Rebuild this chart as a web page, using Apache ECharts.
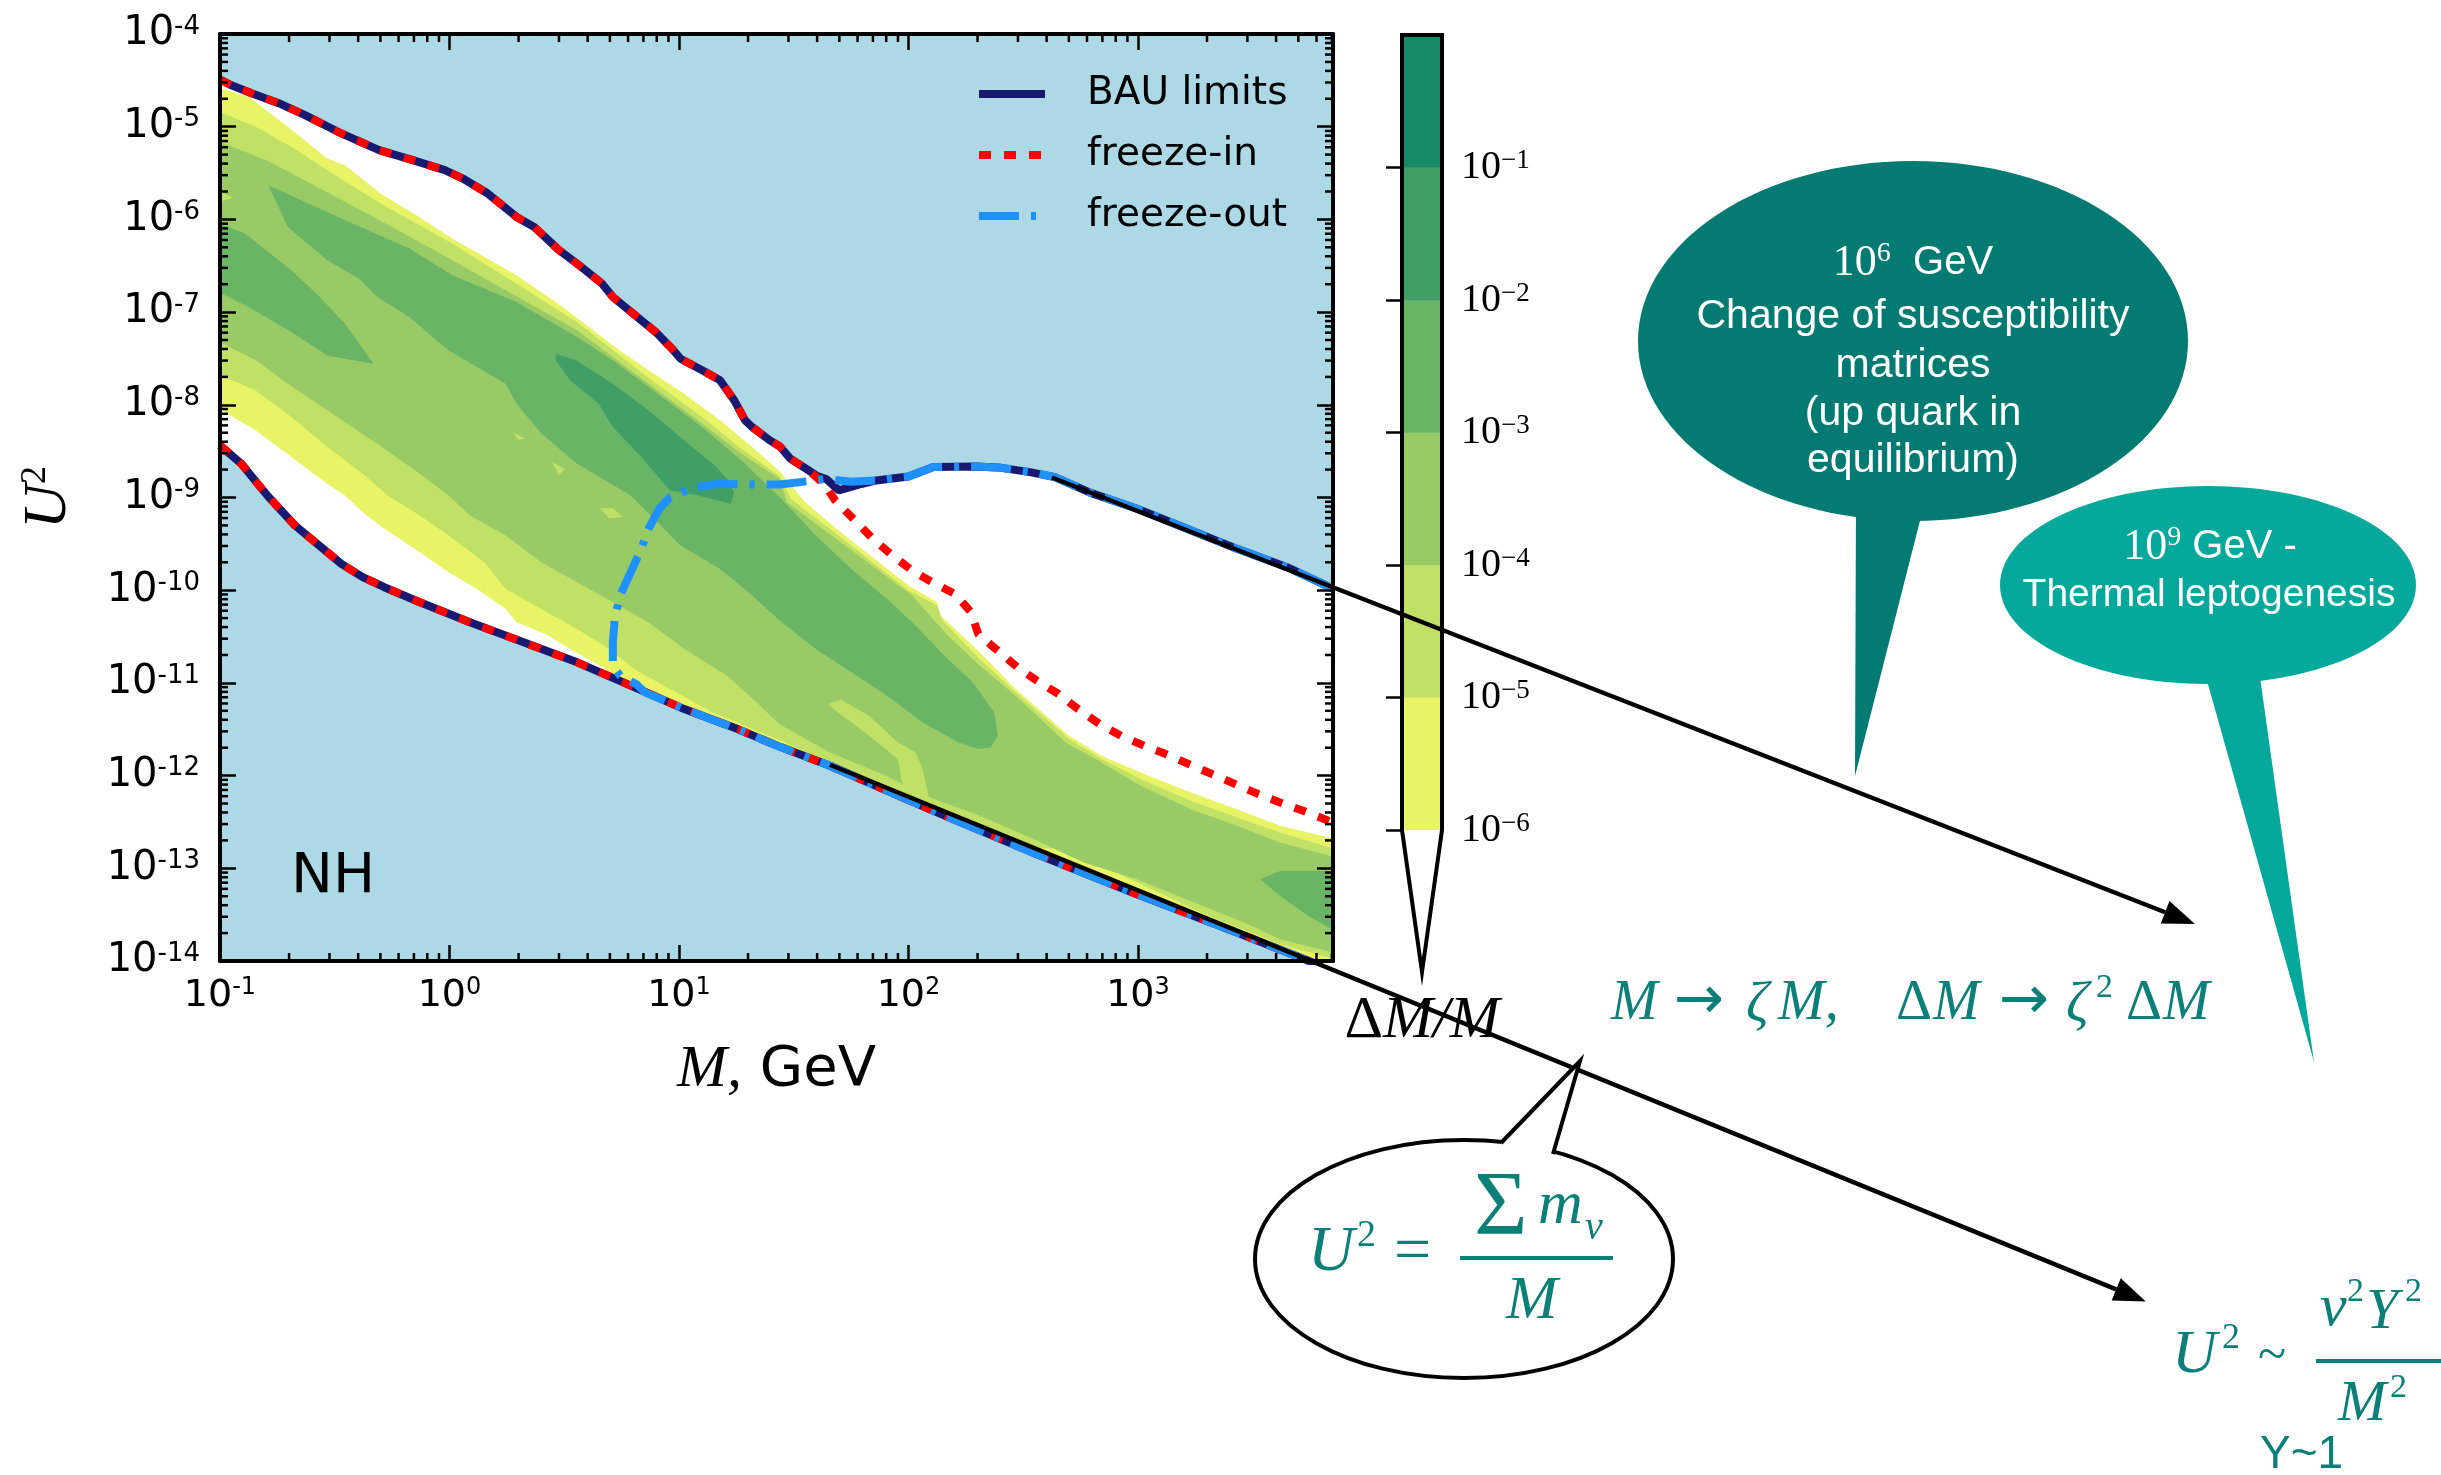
<!DOCTYPE html>
<html>
<head>
<meta charset="utf-8">
<title>BAU limits, NH</title>
<script src="https://cdn.jsdelivr.net/npm/echarts@6.0.0/dist/echarts.min.js"></script>
<style>
html,body{margin:0;padding:0;background:#ffffff;}
#chart{width:2441px;height:1475px;}
</style>
</head>
<body>
<div id="chart"></div>
<script>
// ---------- values: points are [log10(M / GeV), log10(U^2)] ----------
const xRangeExp = [-1, 3.85];
const yRangeExp = [-14, -4];
const xTickExps = [-1, 0, 1, 2, 3];
const yTickExps = [-14, -13, -12, -11, -10, -9, -8, -7, -6, -5, -4];
const minorMantissas = [2, 3, 4, 5, 6, 7, 8, 9];
const colorbarLevelExps = [-6, -5, -4, -3, -2, -1, 0];
const colorbarTickExps = [-6, -5, -4, -3, -2, -1];
const bandColors = ['#e8f466', '#c1e066', '#98cb66', '#6ab466', '#3f9f66', '#168a66'];

const bauUpperSteepLog = [[-1.0,-4.49],[-0.953,-4.551],[-0.86,-4.641],[-0.735,-4.756],[-0.627,-4.878],[-0.486,-5.055],[-0.307,-5.253],[-0.16,-5.361],[-0.02,-5.469],[0.058,-5.559],[0.167,-5.721],[0.292,-5.973],[0.369,-6.081],[0.478,-6.333],[0.556,-6.477],[0.665,-6.693],[0.712,-6.837],[0.836,-7.089],[0.899,-7.215],[0.976,-7.413],[1.007,-7.503],[1.101,-7.628],[1.179,-7.736],[1.241,-7.952],[1.288,-8.168],[1.319,-8.24],[1.396,-8.384],[1.44,-8.45],[1.485,-8.58],[1.56,-8.70]];
const bauUpperPlateauLog = [[1.603,-8.77],[1.642,-8.80],[1.697,-8.924],[1.798,-8.852],[1.86,-8.816],[2.0,-8.773],[2.109,-8.672],[2.296,-8.665],[2.405,-8.68],[2.529,-8.726],[2.638,-8.78],[2.794,-8.95],[2.996,-9.122],[3.214,-9.338],[3.432,-9.554],[3.65,-9.752],[3.852,-9.986]];
const bauLowerLog = [[-1.0,-8.438],[-0.907,-8.636],[-0.79,-8.99],[-0.673,-9.302],[-0.533,-9.59],[-0.471,-9.716],[-0.378,-9.86],[-0.284,-9.968],[-0.129,-10.13],[0.089,-10.346],[0.323,-10.562],[0.556,-10.778],[0.79,-11.03],[1.023,-11.282],[1.256,-11.498],[1.44,-11.69],[1.658,-11.894],[2.109,-12.38],[2.56,-12.848],[2.996,-13.28],[3.432,-13.694],[3.745,-14.0],[3.80,-14.056]];
const freezeInTailLog = [[1.603,-8.79],[1.642,-8.888],[1.68,-9.03],[1.767,-9.248],[1.845,-9.446],[1.922,-9.608],[2.016,-9.788],[2.109,-9.921],[2.203,-10.04],[2.273,-10.238],[2.304,-10.472],[2.389,-10.652],[2.475,-10.832],[2.56,-10.976],[2.654,-11.12],[2.739,-11.282],[2.833,-11.444],[2.926,-11.57],[3.027,-11.678],[3.121,-11.768],[3.222,-11.876],[3.323,-11.984],[3.424,-12.092],[3.525,-12.2],[3.619,-12.29],[3.72,-12.38],[3.85,-12.506]];
const freezeOutLog = [[3.852,-9.986],[3.65,-9.752],[3.432,-9.554],[3.214,-9.338],[2.996,-9.122],[2.794,-8.95],[2.638,-8.78],[2.529,-8.726],[2.405,-8.68],[2.296,-8.665],[2.109,-8.672],[2.0,-8.773],[1.86,-8.816],[1.75,-8.83],[1.642,-8.80],[1.44,-8.86],[1.334,-8.86],[1.179,-8.852],[1.07,-8.888],[0.961,-8.996],[0.914,-9.122],[0.867,-9.338],[0.836,-9.554],[0.79,-9.806],[0.743,-10.058],[0.72,-10.31],[0.712,-10.562],[0.712,-10.814],[0.743,-10.922],[0.813,-11.012],[0.852,-11.102],[1.023,-11.282],[1.256,-11.498],[1.44,-11.69],[1.658,-11.894],[2.109,-12.38],[2.56,-12.848],[2.996,-13.28],[3.432,-13.694],[3.745,-14.0],[3.80,-14.056]];

// filled contour regions of Delta M / M (each "at least this level" region)
const c0UpperLog = [[-1.02,-4.57],[-0.876,-4.677],[-0.704,-5.001],[-0.533,-5.343],[-0.455,-5.415],[-0.3,-5.721],[-0.144,-5.955],[0.012,-6.207],[0.292,-6.603],[0.494,-6.945],[0.712,-7.359],[0.867,-7.628],[1.023,-7.881],[1.179,-8.168],[1.303,-8.42],[1.44,-8.72],[1.55,-9.05],[1.705,-9.374],[2.0,-9.95],[2.125,-10.13],[2.14,-10.274],[2.311,-10.67],[2.467,-11.066],[2.7,-11.57],[2.841,-11.786],[3.012,-11.966],[3.23,-12.182],[3.432,-12.362],[3.619,-12.542],[3.87,-12.69]];
const c0LowerLog = [[3.87,-14.1],[3.80,-14.056],[3.745,-14.0],[3.432,-13.694],[2.996,-13.28],[2.56,-12.848],[2.109,-12.38],[1.658,-11.894],[1.44,-11.69],[1.256,-11.498],[1.023,-11.282],[0.79,-11.03],[0.712,-10.946],[0.681,-10.85],[0.525,-10.634],[0.432,-10.49],[0.292,-10.346],[0.245,-10.202],[0.12,-9.986],[-0.004,-9.806],[-0.129,-9.59],[-0.284,-9.338],[-0.378,-9.158],[-0.455,-8.978],[-0.533,-8.852],[-0.689,-8.564],[-0.844,-8.276],[-1.02,-8.02]];
const c1UpperLog = [[-1.02,-4.82],[-0.844,-5.0],[-0.689,-5.217],[-0.533,-5.469],[-0.3,-5.829],[0.012,-6.261],[0.292,-6.693],[0.556,-7.107],[0.867,-7.708],[1.101,-8.132],[1.272,-8.474],[1.44,-8.77],[1.487,-9.014],[1.705,-9.428],[2.0,-10.004],[2.125,-10.166],[2.148,-10.328],[2.311,-10.742],[2.467,-11.102],[2.7,-11.606],[2.841,-11.822],[3.012,-12.038],[3.23,-12.272],[3.432,-12.452],[3.619,-12.614],[3.87,-12.8]];
const c1LowerLog = [[3.87,-13.99],[3.619,-13.82],[3.307,-13.514],[2.996,-13.154],[2.685,-12.794],[2.5,-12.77],[2.109,-12.35],[1.658,-11.86],[1.44,-11.62],[1.148,-11.318],[0.961,-11.066],[0.805,-10.85],[0.696,-10.634],[0.556,-10.418],[0.4,-10.202],[0.245,-9.986],[0.152,-9.698],[-0.004,-9.41],[-0.129,-9.194],[-0.269,-8.978],[-0.378,-8.744],[-0.533,-8.456],[-0.689,-8.132],[-0.844,-7.845],[-1.02,-7.66]];
const c2UpperLog = [[-1.02,-5.145],[-0.798,-5.361],[-0.549,-5.685],[-0.331,-5.973],[-0.066,-6.333],[0.245,-6.765],[0.556,-7.197],[0.867,-7.772],[1.101,-8.204],[1.272,-8.528],[1.44,-8.8],[1.47,-9.05],[1.705,-9.482],[2.016,-10.058],[2.171,-10.49],[2.311,-10.814],[2.467,-11.138],[2.685,-11.642],[2.841,-11.858],[3.012,-12.11],[3.23,-12.362],[3.432,-12.542],[3.619,-12.722],[3.87,-12.89]];
const c2LowerLog = [[3.87,-13.92],[3.619,-13.766],[3.463,-13.586],[3.23,-13.352],[2.996,-13.118],[2.763,-12.938],[2.56,-12.7],[2.311,-12.434],[2.094,-12.236],[1.9,-12.0],[1.658,-11.75],[1.44,-11.45],[1.334,-11.2],[1.21,-10.922],[1.023,-10.634],[0.867,-10.346],[0.712,-10.13],[0.556,-9.914],[0.4,-9.698],[0.245,-9.41],[0.089,-9.194],[-0.004,-8.978],[-0.129,-8.744],[-0.315,-8.42],[-0.533,-8.06],[-0.704,-7.772],[-0.844,-7.52],[-1.02,-7.3]];
const c1TongueLog = [[1.65,-11.228],[1.705,-11.181],[1.829,-11.354],[1.954,-11.642],[2.031,-11.75],[2.062,-11.93],[2.094,-12.3],[2.0,-12.3],[1.969,-12.038],[1.954,-11.822],[1.829,-11.57],[1.673,-11.282]];
const c1NotchLog = [[-1.02,-5.68],[-0.94,-5.77],[-1.02,-5.82]];
const c1SpeckALog = [[0.276,-8.294],[0.33,-8.366],[0.3,-8.377]];
const c1SpeckBLog = [[0.447,-8.618],[0.502,-8.69],[0.478,-8.762]];
const c1SpeckCLog = [[0.657,-9.115],[0.712,-9.115],[0.755,-9.212],[0.696,-9.223]];
const c3MainLog = [[-0.79,-5.631],[-0.471,-5.991],[-0.175,-6.315],[0.012,-6.603],[0.292,-6.891],[0.556,-7.268],[0.712,-7.52],[0.945,-7.952],[1.101,-8.24],[1.272,-8.6],[1.44,-9.0],[1.596,-9.41],[1.751,-9.77],[1.907,-10.094],[2.031,-10.382],[2.156,-10.706],[2.28,-10.994],[2.374,-11.318],[2.389,-11.57],[2.358,-11.696],[2.304,-11.714],[2.218,-11.642],[2.062,-11.426],[1.907,-11.138],[1.751,-10.886],[1.596,-10.634],[1.44,-10.33],[1.303,-10.022],[1.179,-9.77],[1.007,-9.518],[0.79,-8.978],[0.556,-8.636],[0.4,-8.31],[0.292,-7.988],[0.245,-7.772],[-0.004,-7.413],[-0.175,-7.053],[-0.315,-6.837],[-0.393,-6.639],[-0.533,-6.441],[-0.704,-6.081]];
const c3LobeLog = [[-1.02,-6.027],[-0.891,-6.153],[-0.689,-6.549],[-0.58,-6.8],[-0.455,-7.125],[-0.331,-7.557],[-0.533,-7.467],[-0.689,-7.215],[-0.876,-6.945],[-1.02,-6.765]];
const c3RightLog = [[3.533,-13.118],[3.619,-13.028],[3.87,-13.028],[3.87,-13.694],[3.743,-13.514],[3.619,-13.298]];
const c4Log = [[0.463,-7.45],[0.55,-7.52],[0.712,-7.773],[0.867,-8.06],[1.023,-8.384],[1.148,-8.636],[1.21,-8.8],[1.24,-8.95],[1.225,-9.068],[1.085,-8.978],[0.961,-8.924],[0.836,-8.564],[0.712,-8.24],[0.65,-7.988],[0.525,-7.736],[0.463,-7.52]];

// annotation arrows: [fromX, fromY, toX, toY] in the same log10 units
const arrowLinesLog = [[2.625,-8.784,7.606,-13.6],[1.658,-11.883,7.392,-17.672]];

// ---------- assembled structures ----------
const whiteRegionLog = [[-1.02,-4.47]].concat(bauUpperSteepLog, bauUpperPlateauLog, [[3.87,-10.0],[3.87,-14.1]], bauLowerLog.slice().reverse(), [[-1.02,-8.42]]);
const regionPolygons = [
  {band: -1, pts: whiteRegionLog},
  {band: 0, pts: c0UpperLog.concat(c0LowerLog)},
  {band: 1, pts: c1UpperLog.concat(c1LowerLog)},
  {band: 2, pts: c2UpperLog.concat(c2LowerLog)},
  {band: 1, pts: c1TongueLog},
  {band: 1, pts: c1NotchLog},
  {band: 1, pts: c1SpeckALog},
  {band: 1, pts: c1SpeckBLog},
  {band: 1, pts: c1SpeckCLog},
  {band: 3, pts: c3MainLog},
  {band: 3, pts: c3LobeLog},
  {band: 3, pts: c3RightLog},
  {band: 4, pts: c4Log}
];

const minorTickData = [];
xTickExps.forEach(n => minorMantissas.forEach(k => {
  const v = n + Math.log10(k);
  if (v < xRangeExp[1]) minorTickData.push([v, yRangeExp[0], 0]);
}));
yTickExps.slice(0, -1).forEach(n => minorMantissas.forEach(k => {
  minorTickData.push([0, n + Math.log10(k), 1]);
}));

const colorbarData = colorbarLevelExps.slice(0, -1).map((lo, i) => [0, lo, colorbarLevelExps[i + 1], i]);
colorbarData.push([0, colorbarLevelExps[0], colorbarLevelExps[colorbarLevelExps.length - 1], -1]);

// ---------- styles ----------
const teal = '#0b7f78';
const bubbleDark = '#037b73';
const bubbleLight = '#05a99c';
const tickStyle = {color: '#000', width: 2.5};
const xRich = {
  b: {fontFamily: 'DejaVu Sans', fontSize: 38, lineHeight: 40, color: '#000'},
  s: {fontFamily: 'DejaVu Sans', fontSize: 24, lineHeight: 16, verticalAlign: 'top', color: '#000'}
};
const yRich = {
  b: {fontFamily: 'DejaVu Sans', fontSize: 40, lineHeight: 40, color: '#000'},
  s: {fontFamily: 'DejaVu Sans', fontSize: 26, lineHeight: 14, verticalAlign: 'top', color: '#000'}
};
const cbRich = {
  b: {fontFamily: 'Liberation Serif', fontSize: 40, lineHeight: 40, color: '#000'},
  s: {fontFamily: 'Liberation Serif', fontSize: 27, lineHeight: 16, verticalAlign: 'top', color: '#000'}
};
function expLabel(list) {
  return function (v) {
    const e = Math.round(v);
    if (Math.abs(v - e) > 1e-6 || list.indexOf(e) < 0) return '';
    return '{b|10}{s|' + e + '}';
  };
}
function cbLabel(v) {
  const e = Math.round(v);
  if (Math.abs(v - e) > 1e-6 || colorbarTickExps.indexOf(e) < 0) return '';
  return '{b|10}{s|\u2212' + (-e) + '}';
}
function mainAxisBase(extra) {
  return Object.assign({
    type: 'value', gridIndex: 0, interval: 1, z: 10,
    axisLine: {show: true, onZero: false, lineStyle: {color: '#000', width: 4}},
    axisTick: {show: true, inside: true, length: 16, lineStyle: tickStyle},
    splitLine: {show: false}
  }, extra);
}

function txt(text, x, y, size, opts) {
  opts = opts || {};
  return {
    type: 'text', x: x, y: y, z: 60, silent: true,
    style: Object.assign({
      text: text, fill: opts.fill || teal, fontSize: size,
      fontFamily: opts.family || 'Liberation Serif',
      fontStyle: opts.italic ? 'italic' : 'normal',
      fontWeight: opts.weight || 'normal',
      align: opts.align || 'left', textAlign: opts.align || 'left',
      verticalAlign: 'middle', textVerticalAlign: 'middle'
    }, opts.rich ? {rich: opts.rich} : {})
  };
}

const whiteSans = {fill: '#fff', family: 'Liberation Sans', align: 'center'};
const bubbleHeadRich = {
  t: {fontFamily: 'Liberation Serif', fontSize: 44, lineHeight: 46, fill: '#fff'},
  ts: {fontFamily: 'Liberation Serif', fontSize: 28, lineHeight: 20, verticalAlign: 'top', fill: '#fff'},
  g: {fontFamily: 'Liberation Sans', fontSize: 40, lineHeight: 46, fill: '#fff'}
};

const graphicElements = [
  // bubble 1
  {type: 'polygon', z: 50, silent: true, shape: {points: [[1856, 500], [1924, 505], [1855, 776]]}, style: {fill: bubbleDark}},
  {type: 'ellipse', z: 50, silent: true, shape: {cx: 1913, cy: 341, rx: 275, ry: 180}, style: {fill: bubbleDark}},
  txt('{t|10}{ts|6}{g|  GeV}', 1913, 263, 40, Object.assign({rich: bubbleHeadRich}, whiteSans)),
  txt('Change of susceptibility', 1913, 317, 41, whiteSans),
  txt('matrices', 1913, 366, 41, whiteSans),
  txt('(up quark in', 1913, 414, 41, whiteSans),
  txt('equilibrium)', 1913, 461, 41, whiteSans),
  // bubble 2
  {type: 'polygon', z: 50, silent: true, shape: {points: [[2204, 670], [2259, 670], [2314, 1062]]}, style: {fill: bubbleLight}},
  {type: 'ellipse', z: 50, silent: true, shape: {cx: 2208, cy: 585, rx: 208, ry: 99}, style: {fill: bubbleLight}},
  txt('{t|10}{ts|9}{g| GeV -}', 2210, 547, 40, Object.assign({rich: bubbleHeadRich}, whiteSans)),
  txt('Thermal leptogenesis', 2209, 595, 39, whiteSans),
  // bubble 3 (outlined)
  {type: 'ellipse', z: 50, silent: true, shape: {cx: 1464, cy: 1259, rx: 209, ry: 119}, style: {fill: '#fff', stroke: '#000', lineWidth: 4}},
  {type: 'polygon', z: 51, silent: true, shape: {points: [[1501, 1143], [1580, 1061], [1553, 1154], [1546, 1172], [1506, 1163]]}, style: {fill: '#fff'}},
  {type: 'polyline', z: 52, silent: true, shape: {points: [[1501, 1143], [1580, 1061], [1553, 1154]]}, style: {stroke: '#000', lineWidth: 4, fill: null}},
  txt('U', 1308, 1253, 64, {italic: true}),
  txt('2', 1357, 1236, 38),
  txt('=', 1394, 1254, 66),
  txt('\u03A3', 1474, 1210, 92),
  txt('m', 1538, 1207, 62, {italic: true}),
  txt('\u03BD', 1585, 1228, 40, {italic: true}),
  {type: 'rect', z: 60, silent: true, shape: {x: 1460, y: 1256, width: 153, height: 4}, style: {fill: teal}},
  txt('M', 1506, 1302, 62, {italic: true}),
  // scaling relation
  txt('M', 1611, 1004, 56, {italic: true}),
  txt('\u2192', 1674, 1002, 60, {family: 'DejaVu Sans'}),
  txt('\u03B6', 1746, 1006, 56, {italic: true}),
  txt('M,', 1778, 1004, 56, {italic: true}),
  txt('\u0394', 1896, 1004, 56),
  txt('M', 1933, 1004, 56, {italic: true}),
  txt('\u2192', 1999, 1002, 60, {family: 'DejaVu Sans'}),
  txt('\u03B6', 2066, 1006, 56, {italic: true}),
  txt('2', 2096, 988, 34),
  txt('\u0394', 2126, 1004, 56),
  txt('M', 2163, 1004, 56, {italic: true}),
  // bottom-right relation
  txt('U', 2172, 1356, 62, {italic: true}),
  txt('2', 2222, 1339, 36),
  txt('~', 2258, 1357, 52),
  {type: 'rect', z: 60, silent: true, shape: {x: 2316, y: 1359, width: 140, height: 4}, style: {fill: teal}},
  txt('v', 2320, 1309, 60, {italic: true}),
  txt('2', 2347, 1292, 34),
  txt('Y', 2366, 1313, 58, {italic: true}),
  txt('2', 2405, 1292, 34),
  txt('M', 2338, 1405, 58, {italic: true}),
  txt('2', 2390, 1388, 34),
  txt('Y~1', 2260, 1455, 46, {family: 'Liberation Sans'}),
  // panel tag
  txt('NH', 291, 877, 56, {family: 'DejaVu Sans', fill: '#000'})
];

// ---------- chart ----------
const chart = echarts.init(document.getElementById('chart'), null, {renderer: 'canvas'});
const option = {
  animation: false,
  backgroundColor: '#ffffff',
  textStyle: {fontFamily: 'DejaVu Sans'},
  grid: [
    {left: 220, top: 34, width: 1113, height: 927, show: true, backgroundColor: '#add8e6', borderWidth: 0},
    {left: 1402, top: 35, width: 40, height: 795, show: false}
  ],
  legend: {
    orient: 'vertical', left: 970, top: 69, itemWidth: 66, itemHeight: 2, itemGap: 21,
    data: ['BAU limits', 'freeze-in', 'freeze-out'], selectedMode: false,
    textStyle: {fontFamily: 'DejaVu Sans', fontSize: 39, lineHeight: 40, color: '#000', padding: [0, 0, 0, 37]},
    lineStyle: {width: 8}, itemStyle: {opacity: 0}
  },
  xAxis: [
    mainAxisBase({
      position: 'bottom', min: xRangeExp[0], max: xRangeExp[1],
      axisLabel: {show: true, margin: 15, formatter: expLabel(xTickExps), rich: xRich, showMaxLabel: false},
      name: '{i|M,}{n| GeV}', nameLocation: 'middle', nameGap: 79,
      nameTextStyle: {rich: {
        i: {fontFamily: 'Liberation Serif', fontStyle: 'italic', fontSize: 60, lineHeight: 60, color: '#000'},
        n: {fontFamily: 'DejaVu Sans', fontSize: 56, lineHeight: 60, color: '#000'}
      }}
    }),
    mainAxisBase({position: 'top', min: xRangeExp[0], max: xRangeExp[1], axisLabel: {show: false}}),
    {
      type: 'value', gridIndex: 1, min: 0, max: 1, show: true,
      axisLine: {show: false}, axisTick: {show: false}, axisLabel: {show: false}, splitLine: {show: false},
      name: '{d|\u0394}{i|M/M}', nameLocation: 'middle', nameGap: 161,
      nameTextStyle: {rich: {
        d: {fontFamily: 'Liberation Serif', fontSize: 60, lineHeight: 60, color: '#000'},
        i: {fontFamily: 'Liberation Serif', fontStyle: 'italic', fontSize: 60, lineHeight: 60, color: '#000'}
      }}
    }
  ],
  yAxis: [
    mainAxisBase({
      position: 'left', min: yRangeExp[0], max: yRangeExp[1],
      axisLabel: {show: true, margin: 20, formatter: expLabel(yTickExps), rich: yRich},
      name: '{i|U}{s|2}', nameLocation: 'middle', nameRotate: 90, nameGap: 140,
      nameTextStyle: {rich: {
        i: {fontFamily: 'Liberation Serif', fontStyle: 'italic', fontSize: 62, lineHeight: 62, color: '#000'},
        s: {fontFamily: 'Liberation Serif', fontSize: 36, lineHeight: 26, verticalAlign: 'top', color: '#000'}
      }}
    }),
    mainAxisBase({position: 'right', min: yRangeExp[0], max: yRangeExp[1], axisLabel: {show: false}}),
    {
      type: 'value', gridIndex: 1, position: 'right', min: colorbarLevelExps[0], max: colorbarLevelExps[colorbarLevelExps.length - 1], interval: 1, z: 10,
      axisLine: {show: false},
      axisTick: {show: true, inside: true, length: 16, lineStyle: tickStyle},
      axisLabel: {show: true, margin: 19, formatter: cbLabel, rich: cbRich, showMaxLabel: false},
      splitLine: {show: false}
    }
  ],
  series: [
    {
      type: 'custom', name: 'contours', xAxisIndex: 0, yAxisIndex: 0, clip: true, z: 2, silent: true,
      data: regionPolygons.map((r, i) => [r.pts[0][0], r.pts[0][1], i]),
      encode: {x: 0, y: 1},
      renderItem: function (params, api) {
        const r = regionPolygons[params.dataIndex];
        const pts = r.pts.map(p => api.coord(p));
        const color = r.band < 0 ? '#ffffff' : bandColors[r.band];
        return {type: 'polygon', shape: {points: pts}, style: {fill: color, stroke: null}};
      }
    },
    {name: 'BAU limits', type: 'line', xAxisIndex: 0, yAxisIndex: 0, data: bauUpperSteepLog.concat(bauUpperPlateauLog), symbol: 'none', silent: true, z: 3,
      itemStyle: {color: '#191970'}, lineStyle: {color: '#191970', width: 8, type: 'solid'}},
    {name: 'BAU limits', type: 'line', xAxisIndex: 0, yAxisIndex: 0, data: bauLowerLog, symbol: 'none', silent: true, z: 3,
      itemStyle: {color: '#191970'}, lineStyle: {color: '#191970', width: 8, type: 'solid'}},
    {name: 'freeze-in', type: 'line', xAxisIndex: 0, yAxisIndex: 0, data: bauUpperSteepLog.concat(freezeInTailLog), symbol: 'none', silent: true, z: 4,
      itemStyle: {color: '#ff0000'}, lineStyle: {color: '#ff0000', width: 8, type: [12, 13], cap: 'butt'}},
    {name: 'freeze-in', type: 'line', xAxisIndex: 0, yAxisIndex: 0, data: bauLowerLog, symbol: 'none', silent: true, z: 4,
      itemStyle: {color: '#ff0000'}, lineStyle: {color: '#ff0000', width: 8, type: [12, 13], cap: 'butt'}},
    {name: 'freeze-out', type: 'line', xAxisIndex: 0, yAxisIndex: 0, data: freezeOutLog, symbol: 'none', silent: true, z: 5,
      itemStyle: {color: '#1e90ff'}, lineStyle: {color: '#1e90ff', width: 8, type: [40, 12, 5, 12], cap: 'butt'}},
    {
      type: 'custom', name: 'minor ticks', xAxisIndex: 0, yAxisIndex: 0, clip: false, z: 11, silent: true,
      data: minorTickData, encode: {x: 0, y: 1},
      renderItem: function (params, api) {
        const st = {stroke: '#000', lineWidth: 2.5};
        if (api.value(2) === 0) {
          const x = api.value(0);
          const b = api.coord([x, yRangeExp[0]]), t = api.coord([x, yRangeExp[1]]);
          return {type: 'group', children: [
            {type: 'line', shape: {x1: b[0], y1: b[1], x2: b[0], y2: b[1] - 8}, style: st},
            {type: 'line', shape: {x1: t[0], y1: t[1], x2: t[0], y2: t[1] + 8}, style: st}
          ]};
        }
        const y = api.value(1);
        const l = api.coord([xRangeExp[0], y]), r = api.coord([xRangeExp[1], y]);
        return {type: 'group', children: [
          {type: 'line', shape: {x1: l[0], y1: l[1], x2: l[0] + 8, y2: l[1]}, style: st},
          {type: 'line', shape: {x1: r[0], y1: r[1], x2: r[0] - 8, y2: r[1]}, style: st}
        ]};
      }
    },
    {
      type: 'custom', name: 'arrows', xAxisIndex: 0, yAxisIndex: 0, clip: false, z: 20, silent: true,
      data: arrowLinesLog, encode: {x: 0, y: 1},
      renderItem: function (params, api) {
        const p1 = api.coord([api.value(0), api.value(1)]);
        const p2 = api.coord([api.value(2), api.value(3)]);
        const dx = p2[0] - p1[0], dy = p2[1] - p1[1], L = Math.hypot(dx, dy);
        const ux = dx / L, uy = dy / L, hl = 32, hw = 12;
        const bx = p2[0] - ux * hl, by = p2[1] - uy * hl;
        return {type: 'group', children: [
          {type: 'line', shape: {x1: p1[0], y1: p1[1], x2: bx, y2: by}, style: {stroke: '#000', lineWidth: 4.5}},
          {type: 'polygon', shape: {points: [p2, [bx - uy * hw, by + ux * hw], [bx + uy * hw, by - ux * hw]]}, style: {fill: '#000'}}
        ]};
      }
    },
    {
      type: 'custom', name: 'colorbar', xAxisIndex: 2, yAxisIndex: 2, clip: false, z: 2, silent: true,
      data: colorbarData, encode: {x: 0, y: 1},
      renderItem: function (params, api) {
        const lo = api.value(1), hi = api.value(2), idx = api.value(3);
        if (idx >= 0) {
          const a = api.coord([0, hi]), b = api.coord([1, lo]);
          return {type: 'rect', shape: {x: a[0], y: a[1], width: b[0] - a[0], height: b[1] - a[1]},
            style: {fill: bandColors[idx], stroke: bandColors[idx], lineWidth: 0.5}};
        }
        const tl = api.coord([0, hi]), tr = api.coord([1, hi]), br = api.coord([1, lo]), bl = api.coord([0, lo]);
        const tip = [(bl[0] + br[0]) / 2, bl[1] + 142];
        return {type: 'group', children: [
          {type: 'polygon', shape: {points: [bl, br, tip]}, style: {fill: '#ffffff'}},
          {type: 'polygon', shape: {points: [tl, tr, br, tip, bl]}, style: {fill: null, stroke: '#000', lineWidth: 4}}
        ]};
      }
    }
  ],
  graphic: graphicElements
};
chart.setOption(option);
</script>
</body>
</html>
